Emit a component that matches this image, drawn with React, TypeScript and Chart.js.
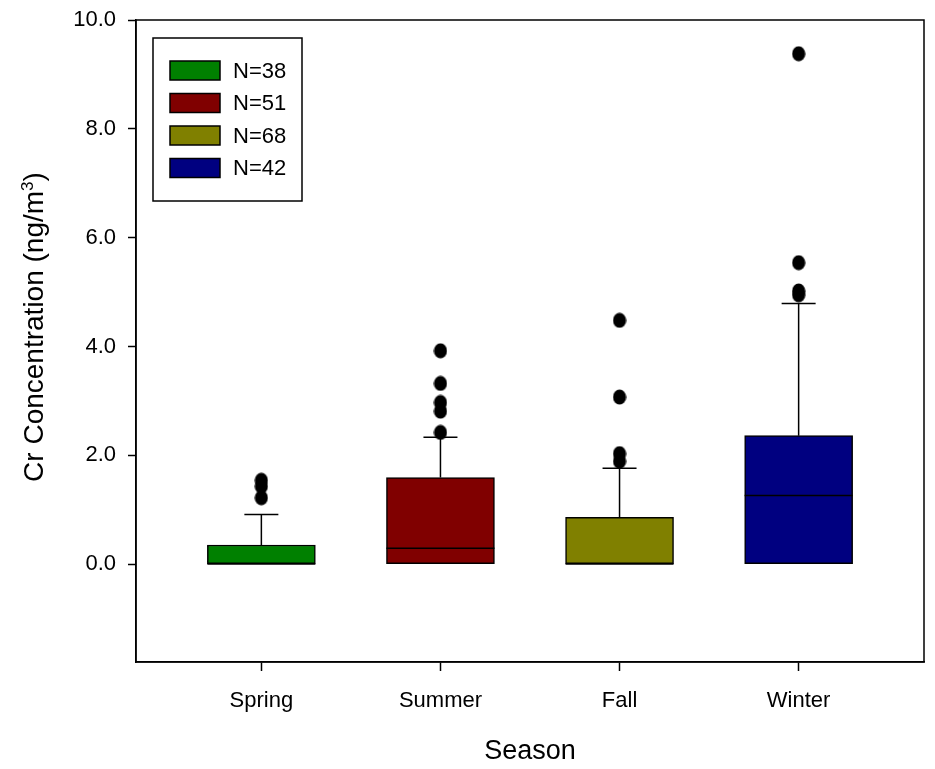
import { useEffect, useRef } from 'react';
import { Chart, registerables } from 'chart.js';

Chart.register(...registerables);

// Seasonal Cr concentration summary (ng/m³)
const seasons = ['Spring', 'Summer', 'Fall', 'Winter'];
const sampleSizes = ['N=38', 'N=51', 'N=68', 'N=42'];
const boxColors = ['#008000', '#800000', '#808000', '#000080'];

const q1 = [0, 0, 0, 0];
const q3 = [0.35, 1.59, 0.86, 2.36];
const medians = [0, 0.29, 0, 1.26];
const whiskerLow = [0, 0, 0, 0];
const whiskerHigh = [0.91, 2.33, 1.76, 4.79];

const springOutliers = [1.22, 1.43, 1.54];
const summerOutliers = [2.42, 2.81, 2.97, 3.32, 3.92];
const fallOutliers = [1.89, 2.03, 3.07, 4.48];
const winterOutliers = [4.95, 5.02, 5.54, 9.38];
const outliers = [springOutliers, summerOutliers, fallOutliers, winterOutliers];

const yTicks = [0, 2, 4, 6, 8, 10];
const yMin = -1.8;
const yMax = 10;

const FONT = "'Liberation Sans', Arial, sans-serif";
const BOX_WIDTH = 108;
const CAP_WIDTH = 34;

// slightly tall ellipse used as the outlier marker
function makeDot(): HTMLCanvasElement {
  const c = document.createElement('canvas');
  c.width = 14;
  c.height = 16;
  const g = c.getContext('2d')!;
  g.fillStyle = '#000';
  g.beginPath();
  g.ellipse(7, 8, 6.6, 7.6, 0, 0, Math.PI * 2);
  g.fill();
  return c;
}

// whiskers, caps and median lines
const boxParts = {
  id: 'boxParts',
  beforeDatasetsDraw(chart: any) {
    const { ctx, scales } = chart;
    const xs = scales.x;
    const ys = scales.y;
    ctx.save();
    ctx.strokeStyle = '#000';
    ctx.lineWidth = 1.5;
    seasons.forEach((_, i) => {
      const x = xs.getPixelForValue(i + 1);
      const segs = [
        [q3[i], whiskerHigh[i]],
        [q1[i], whiskerLow[i]],
      ];
      segs.forEach(([from, to]) => {
        if (from === to) return;
        const y0 = ys.getPixelForValue(from);
        const y1 = ys.getPixelForValue(to);
        ctx.beginPath();
        ctx.moveTo(x, y0);
        ctx.lineTo(x, y1);
        ctx.moveTo(x - CAP_WIDTH / 2, y1);
        ctx.lineTo(x + CAP_WIDTH / 2, y1);
        ctx.stroke();
      });
    });
    ctx.restore();
  },
  afterDatasetDraw(chart: any, args: any) {
    const i = args.index;
    if (i >= seasons.length) return;
    const bar = chart.getDatasetMeta(i).data[0];
    if (!bar) return;
    const { x, width } = bar.getProps(['x', 'width'], true);
    const y = chart.scales.y.getPixelForValue(medians[i]);
    const { ctx } = chart;
    ctx.save();
    ctx.strokeStyle = '#000';
    ctx.lineWidth = 1.5;
    ctx.beginPath();
    ctx.moveTo(x - width / 2, y);
    ctx.lineTo(x + width / 2, y);
    ctx.stroke();
    ctx.restore();
  },
};

// plot frame, y-axis title with superscript, and boxed legend
const decorations = {
  id: 'decorations',
  afterDraw(chart: any) {
    const { ctx, chartArea } = chart;
    ctx.save();
    ctx.strokeStyle = '#000';
    ctx.lineWidth = 1.5;
    ctx.strokeRect(chartArea.left, chartArea.top, chartArea.right - chartArea.left, chartArea.bottom - chartArea.top);

    // y-axis title
    const mainText = 'Cr Concentration (ng/m';
    const supText = '3';
    const closeText = ')';
    const mainFont = `28px ${FONT}`;
    const supFont = `17px ${FONT}`;
    ctx.font = mainFont;
    const wMain = ctx.measureText(mainText).width;
    const wClose = ctx.measureText(closeText).width;
    ctx.font = supFont;
    const wSup = ctx.measureText(supText).width;
    const total = wMain + wSup + wClose;
    ctx.translate(43, 327);
    ctx.rotate(-Math.PI / 2);
    ctx.fillStyle = '#000';
    ctx.textBaseline = 'alphabetic';
    ctx.textAlign = 'left';
    let cx = -total / 2;
    ctx.font = mainFont;
    ctx.fillText(mainText, cx, 0);
    cx += wMain;
    ctx.font = supFont;
    ctx.fillText(supText, cx, -10);
    cx += wSup;
    ctx.font = mainFont;
    ctx.fillText(closeText, cx, 0);
    ctx.restore();

    // legend
    ctx.save();
    const left = chartArea.left + 17;
    const top = chartArea.top + 18;
    const w = 149;
    const h = 163;
    ctx.fillStyle = '#fff';
    ctx.fillRect(left, top, w, h);
    ctx.strokeStyle = '#000';
    ctx.lineWidth = 1.5;
    ctx.strokeRect(left, top, w, h);
    ctx.font = `22px ${FONT}`;
    ctx.textBaseline = 'middle';
    ctx.textAlign = 'left';
    sampleSizes.forEach((label, i) => {
      const cy = top + 32.5 + i * 32.5;
      ctx.fillStyle = boxColors[i];
      ctx.fillRect(left + 17, cy - 9.5, 50, 19);
      ctx.strokeRect(left + 17, cy - 9.5, 50, 19);
      ctx.fillStyle = '#000';
      ctx.fillText(label, left + 80, cy + 1);
    });
    ctx.restore();
  },
};

export default function App() {
  const canvasRef = useRef<HTMLCanvasElement | null>(null);

  useEffect(() => {
    if (!canvasRef.current) return;
    const dot = makeDot();

    const boxSets = seasons.map((s, i) => ({
      type: 'bar' as const,
      label: s,
      data: [{ x: i + 1, y: [q1[i], q3[i]] }],
      backgroundColor: boxColors[i],
      borderColor: '#000',
      borderWidth: 1.5,
      borderSkipped: false,
      barThickness: BOX_WIDTH,
      grouped: false,
      order: 2,
    }));

    const outlierSets = seasons.map((s, i) => ({
      type: 'scatter' as const,
      label: `${s} outliers`,
      data: outliers[i].map((v) => ({ x: i + 1, y: v })),
      pointStyle: dot,
      pointRadius: 7,
      backgroundColor: '#000',
      borderColor: '#000',
      order: 1,
    }));

    const chart = new Chart(canvasRef.current, {
      type: 'bar',
      data: { datasets: [...boxSets, ...outlierSets] as any },
      options: {
        animation: false,
        responsive: true,
        maintainAspectRatio: false,
        events: [],
        layout: { padding: { top: 20, right: 11, left: 0, bottom: 0 } },
        plugins: {
          legend: { display: false },
          tooltip: { enabled: false },
        },
        scales: {
          x: {
            type: 'linear',
            min: 0.3,
            max: 4.7,
            offset: false,
            afterBuildTicks: (scale: any) => {
              scale.ticks = seasons.map((_, i) => ({ value: i + 1 }));
            },
            afterFit: (scale: any) => {
              scale.height = 107;
              scale.paddingLeft = 0;
              scale.paddingRight = 0;
            },
            ticks: {
              autoSkip: false,
              maxRotation: 0,
              color: '#000',
              padding: 17,
              font: { family: FONT, size: 22 },
              callback: (v: any) => seasons[Number(v) - 1] ?? '',
            },
            grid: {
              offset: false,
              drawOnChartArea: false,
              drawTicks: true,
              tickLength: 9,
              tickWidth: 1.5,
              tickColor: '#000',
            },
            border: { display: true, color: '#000', width: 1.5 },
            title: {
              display: true,
              text: 'Season',
              color: '#000',
              font: { family: FONT, size: 27 },
              padding: { top: 0, bottom: 1 },
            },
          },
          y: {
            type: 'linear',
            min: yMin,
            max: yMax,
            afterBuildTicks: (scale: any) => {
              scale.ticks = yTicks.map((v) => ({ value: v }));
            },
            afterFit: (scale: any) => {
              scale.width = 136;
              scale.paddingTop = 0;
              scale.paddingBottom = 0;
            },
            ticks: {
              color: '#000',
              padding: 12,
              font: { family: FONT, size: 22 },
              callback: (v: any) => Number(v).toFixed(1),
            },
            grid: {
              drawOnChartArea: false,
              drawTicks: true,
              tickLength: 8,
              tickWidth: 1.5,
              tickColor: '#000',
            },
            border: { display: true, color: '#000', width: 1.5 },
          },
        },
      },
      plugins: [boxParts, decorations],
    } as any);

    return () => chart.destroy();
  }, []);

  return (
    <div style={{ position: 'absolute', left: 0, top: 0, width: 935, height: 769, background: '#fff' }}>
      <canvas ref={canvasRef} />
    </div>
  );
}
